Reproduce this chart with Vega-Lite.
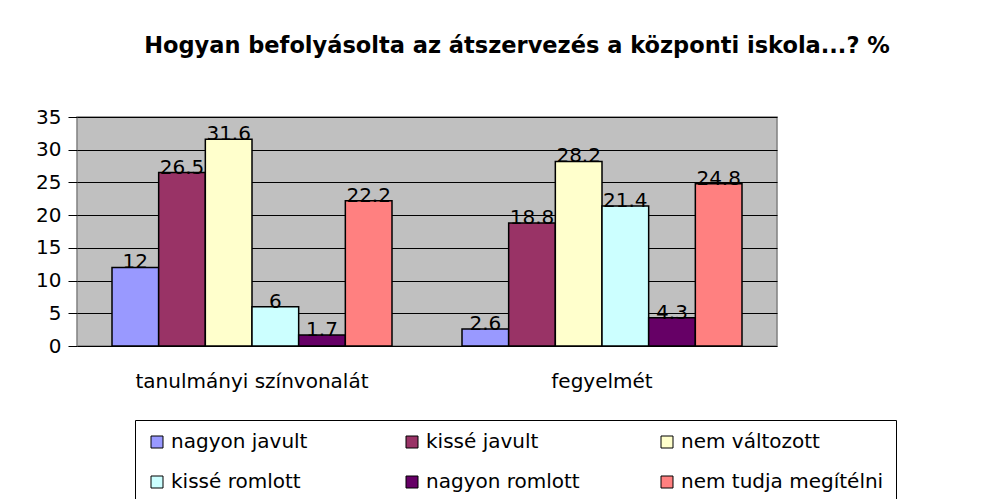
{
  "$schema": "https://vega.github.io/schema/vega-lite/v6.json",
  "width": 700,
  "height": 229,
  "autosize": {"type": "none"},
  "padding": {"left": 77, "top": 117, "right": 223, "bottom": 153},
  "background": "white",
  "title": {
    "text": "Hogyan befolyásolta az átszervezés a központi iskola...? %",
    "font": "DejaVu Sans",
    "fontSize": 22.5,
    "fontWeight": "bold",
    "color": "black",
    "anchor": "middle",
    "frame": "group",
    "dx": 90,
    "offset": 50
  },
  "data": {
    "values": [
      {"kategoria": "tanulmányi színvonalát", "valasz": "nagyon javult", "ertek": 12},
      {"kategoria": "tanulmányi színvonalát", "valasz": "kissé javult", "ertek": 26.5},
      {"kategoria": "tanulmányi színvonalát", "valasz": "nem változott", "ertek": 31.6},
      {"kategoria": "tanulmányi színvonalát", "valasz": "kissé romlott", "ertek": 6},
      {"kategoria": "tanulmányi színvonalát", "valasz": "nagyon romlott", "ertek": 1.7},
      {"kategoria": "tanulmányi színvonalát", "valasz": "nem tudja megítélni", "ertek": 22.2},
      {"kategoria": "fegyelmét", "valasz": "nagyon javult", "ertek": 2.6},
      {"kategoria": "fegyelmét", "valasz": "kissé javult", "ertek": 18.8},
      {"kategoria": "fegyelmét", "valasz": "nem változott", "ertek": 28.2},
      {"kategoria": "fegyelmét", "valasz": "kissé romlott", "ertek": 21.4},
      {"kategoria": "fegyelmét", "valasz": "nagyon romlott", "ertek": 4.3},
      {"kategoria": "fegyelmét", "valasz": "nem tudja megítélni", "ertek": 24.8}
    ]
  },
  "encoding": {
    "x": {
      "field": "kategoria",
      "type": "nominal",
      "sort": ["tanulmányi színvonalát", "fegyelmét"],
      "scale": {"paddingInner": 0.2, "paddingOuter": 0.1},
      "axis": {
        "title": null,
        "labelAngle": 0,
        "labelFont": "DejaVu Sans",
        "labelFontSize": 20,
        "labelColor": "black",
        "labelPadding": 25,
        "labelLimit": 500,
        "ticks": false,
        "domain": false
      }
    },
    "xOffset": {
      "field": "valasz",
      "type": "nominal",
      "sort": ["nagyon javult", "kissé javult", "nem változott", "kissé romlott", "nagyon romlott", "nem tudja megítélni"],
      "scale": {"paddingInner": 0, "paddingOuter": 0}
    },
    "y": {
      "field": "ertek",
      "type": "quantitative",
      "scale": {"domain": [0, 35], "nice": false},
      "axis": {
        "title": null,
        "values": [0, 5, 10, 15, 20, 25, 30, 35],
        "labelFont": "DejaVu Sans",
        "labelFontSize": 20,
        "labelColor": "black",
        "labelPadding": 7,
        "tickSize": 9,
        "tickColor": "black",
        "domain": false,
        "grid": true,
        "gridColor": "black",
        "gridWidth": 1,
        "gridOpacity": 1
      }
    }
  },
  "layer": [
    {
      "mark": {"type": "bar", "stroke": "black", "strokeWidth": 1.5},
      "encoding": {
        "color": {
          "field": "valasz",
          "type": "nominal",
          "sort": ["nagyon javult", "kissé javult", "nem változott", "kissé romlott", "nagyon romlott", "nem tudja megítélni"],
          "scale": {
            "domain": ["nagyon javult", "kissé javult", "nem változott", "kissé romlott", "nagyon romlott", "nem tudja megítélni"],
            "range": ["#9999FF", "#993366", "#FFFFCC", "#CCFFFF", "#660066", "#FF8080"]
          },
          "legend": {
            "title": null,
            "orient": "none",
            "legendX": 58,
            "legendY": 303,
            "columns": 3,
            "direction": "horizontal",
            "gridAlign": "all",
            "columnPadding": 28,
            "rowPadding": 20,
            "padding": 12,
            "strokeColor": "black",
            "fillColor": "white",
            "symbolType": "square",
            "symbolSize": 144,
            "symbolStrokeColor": "black",
            "symbolStrokeWidth": 1,
            "symbolOffset": 0,
            "labelFont": "DejaVu Sans",
            "labelFontSize": 20,
            "labelColor": "black",
            "labelOffset": 4,
            "labelLimit": 400
          }
        }
      }
    },
    {
      "mark": {"type": "text", "baseline": "alphabetic", "font": "DejaVu Sans", "fontSize": 20, "color": "black", "dy": 1},
      "encoding": {
        "text": {"field": "ertek", "type": "quantitative"}
      }
    }
  ],
  "config": {
    "view": {"fill": "#C0C0C0", "stroke": "#808080", "strokeWidth": 1.5}
  }
}
